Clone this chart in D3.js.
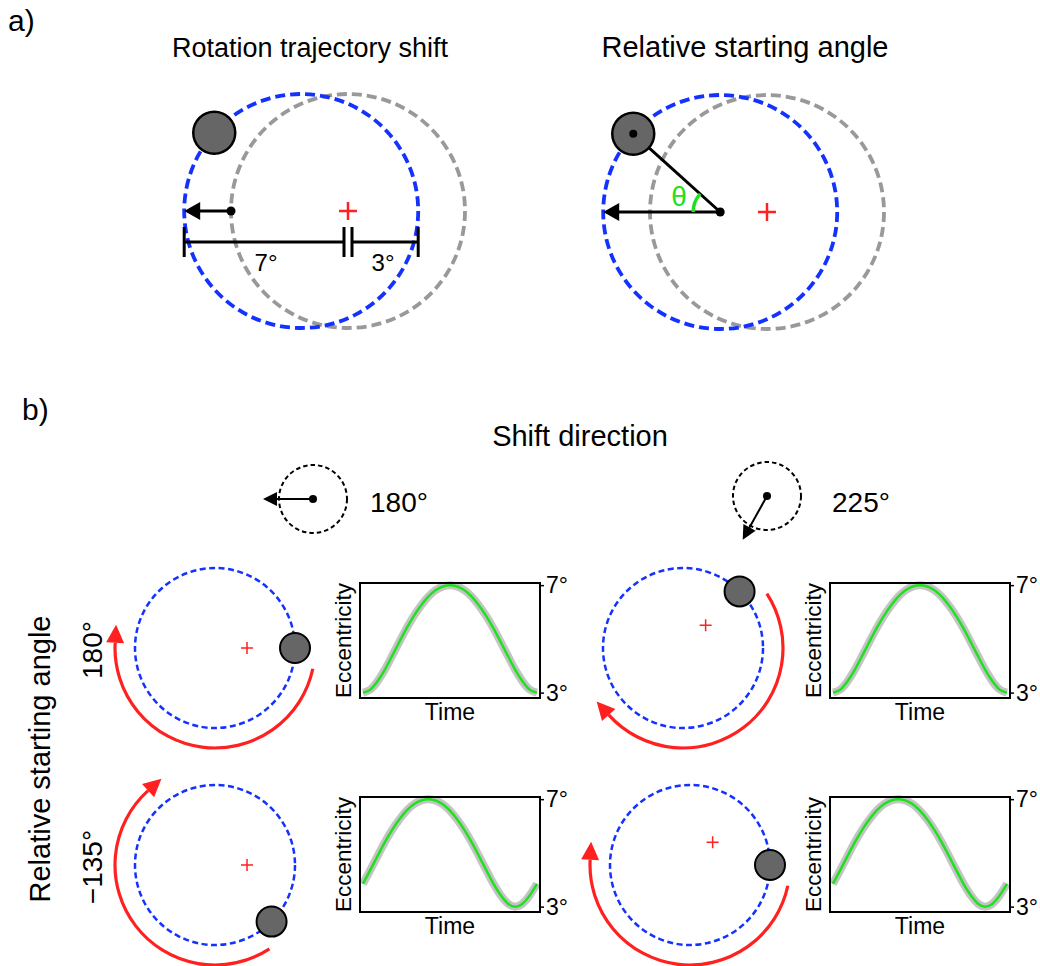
<!DOCTYPE html>
<html>
<head>
<meta charset="utf-8">
<script src="https://cdn.jsdelivr.net/npm/d3@7"></script>
<style>
  body { margin: 0; background: #fff; }
  svg text { font-family: "Liberation Sans", Arial, sans-serif; fill: #000; }
</style>
</head>
<body>
<div id="content"></div>
<script>
// ---- data ----
const shiftDirs = [180, 225];          // shift direction (deg), one per column
const startAngles = [180, -135];       // relative starting angle (deg), one per row
const shiftSize = 2;                   // trajectory shift (deg)
const orbitRadius = 5;                 // rotation radius (deg)
const thetaA = 42;                     // example starting angle in panel a
const rangeLabels = ['7°', '3°'];
const eccTicks = [3, 7];
// eccentricity over one rotation (25 samples)
const eccStart180 = [3.00, 3.11, 3.42, 3.85, 4.36, 4.88, 5.39, 5.85, 6.24, 6.57, 6.81, 6.95, 7.00,
                     6.95, 6.81, 6.57, 6.24, 5.85, 5.39, 4.88, 4.36, 3.85, 3.42, 3.11, 3.00];
const eccStartM135 = [3.85, 4.36, 4.88, 5.39, 5.85, 6.24, 6.57, 6.81, 6.95, 7.00, 6.95, 6.81, 6.57,
                      6.24, 5.85, 5.39, 4.88, 4.36, 3.85, 3.42, 3.11, 3.00, 3.11, 3.42, 3.85];
const eccSeries = [eccStart180, eccStartM135];

// ---- style ----
const width = 1040, height = 966;
const blue = '#1432ff', red = '#ff2020', green = '#20e020', grey = '#999999', ballFill = '#666666';

const svg = d3.select('#content')
              .append('svg')
              .attr('width', width)
              .attr('height', height);

const rad = d => d * Math.PI / 180;
// math angle (y up) -> screen point
const polar = (c, r, deg) => ({ x: c.x + r * Math.cos(rad(deg)), y: c.y - r * Math.sin(rad(deg)) });
const fmtDeg = d => (d < 0 ? '\u2212' + (-d) : d) + '°';

function arrow(g, p0, p1, headLen, headW, color, sw) {
    const dx = p1.x - p0.x, dy = p1.y - p0.y, L = Math.hypot(dx, dy);
    const ux = dx / L, uy = dy / L;
    const bx = p1.x - ux * headLen, by = p1.y - uy * headLen;
    g.append('line')
     .attr('x1', p0.x).attr('y1', p0.y).attr('x2', bx + ux).attr('y2', by + uy)
     .attr('stroke', color).attr('stroke-width', sw);
    g.append('path')
     .attr('d', d3.line()([[p1.x, p1.y], [bx - uy * headW, by + ux * headW], [bx + uy * headW, by - ux * headW]]) + 'Z')
     .attr('fill', color);
}

function cross(g, c, s, sw) {
    g.append('path')
     .attr('d', `M${c.x - s},${c.y}H${c.x + s}M${c.x},${c.y - s}V${c.y + s}`)
     .attr('stroke', red).attr('stroke-width', sw).attr('fill', 'none');
}

// ---- panel a ----
svg.append('text').attr('x', 8).attr('y', 31).attr('font-size', 30).text('a)');

const degA = d3.scaleLinear().domain([0, 1]).range([0, 23.4]);
const panelsA = [
    { fix: { x: 348, y: 211 }, title: 'Rotation trajectory shift', tx: 310, fs: 27 },
    { fix: { x: 767, y: 212 }, title: 'Relative starting angle', tx: 745, fs: 29 }
];

panelsA.forEach((p, i) => {
    const g = svg.append('g');
    g.append('text').attr('x', p.tx).attr('y', 57).attr('text-anchor', 'middle')
     .attr('font-size', p.fs).text(p.title);

    const bc = polar(p.fix, degA(shiftSize), shiftDirs[0]);
    g.append('circle').attr('cx', p.fix.x).attr('cy', p.fix.y).attr('r', degA(orbitRadius))
     .attr('fill', 'none').attr('stroke', grey).attr('stroke-width', 3.8).attr('stroke-dasharray', '10 5');
    g.append('circle').attr('cx', bc.x).attr('cy', bc.y).attr('r', degA(orbitRadius))
     .attr('fill', 'none').attr('stroke', blue).attr('stroke-width', 3.8).attr('stroke-dasharray', '10 5');
    cross(g, p.fix, 9, 2.5);

    const ball = polar(bc, degA(orbitRadius), 180 - thetaA);
    const edge = polar(bc, degA(orbitRadius), 180);

    if (i === 0) {
        const from = polar(p.fix, degA(orbitRadius), 180);
        arrow(g, from, edge, 16, 9, '#000', 3);
        g.append('circle').attr('cx', from.x).attr('cy', from.y).attr('r', 4.5);

        // 7° / 3° range bar
        const y = p.fix.y + 31, gap = 4;
        const x7 = p.fix.x - degA(7), x3 = p.fix.x + degA(3);
        g.append('path')
         .attr('d', `M${x7},${y}H${p.fix.x - gap}M${p.fix.x + gap},${y}H${x3}` +
                    `M${x7},${y - 15}V${y + 15}M${x3},${y - 15}V${y + 15}` +
                    `M${p.fix.x - gap},${y - 15}V${y + 15}M${p.fix.x + gap},${y - 15}V${y + 15}`)
         .attr('stroke', '#000').attr('stroke-width', 3).attr('fill', 'none');
        g.append('text').attr('x', (x7 + p.fix.x) / 2).attr('y', y + 29).attr('text-anchor', 'middle')
         .attr('font-size', 24).text(rangeLabels[0]);
        g.append('text').attr('x', (x3 + p.fix.x) / 2).attr('y', y + 29).attr('text-anchor', 'middle')
         .attr('font-size', 24).text(rangeLabels[1]);
    } else {
        arrow(g, bc, edge, 16, 9, '#000', 3);
        g.append('line').attr('x1', bc.x).attr('y1', bc.y).attr('x2', ball.x).attr('y2', ball.y)
         .attr('stroke', '#000').attr('stroke-width', 3);
        const arcP = d3.path();
        arcP.arc(bc.x, bc.y, 27, -Math.PI, -rad(180 - thetaA), false);
        g.append('path').attr('d', arcP.toString()).attr('fill', 'none')
         .attr('stroke', green).attr('stroke-width', 3.5);
        const tp = polar(bc, 44, 180 - thetaA / 2);
        g.append('text').attr('x', tp.x).attr('y', tp.y).attr('text-anchor', 'middle')
         .attr('dominant-baseline', 'central').attr('font-size', 28)
         .style('fill', green).text('θ');
        g.append('circle').attr('cx', bc.x).attr('cy', bc.y).attr('r', 4.5);
    }

    g.append('circle').attr('cx', ball.x).attr('cy', ball.y).attr('r', 21)
     .attr('fill', ballFill).attr('stroke', '#000').attr('stroke-width', 2.5);
    if (i === 1) g.append('circle').attr('cx', ball.x).attr('cy', ball.y).attr('r', 4);
});

// ---- panel b ----
svg.append('text').attr('x', 22).attr('y', 420).attr('font-size', 30).text('b)');
svg.append('text').attr('x', 580).attr('y', 446).attr('text-anchor', 'middle')
   .attr('font-size', 29).text('Shift direction');

// shift direction icons
const iconC = [{ x: 313, y: 499 }, { x: 767, y: 496 }];
const iconLabelX = [370, 832];
shiftDirs.forEach((dir, c) => {
    const g = svg.append('g');
    const ic = iconC[c];
    g.append('circle').attr('cx', ic.x).attr('cy', ic.y).attr('r', 34)
     .attr('fill', 'none').attr('stroke', '#000').attr('stroke-width', 2).attr('stroke-dasharray', '4.5 3');
    // the small inset is drawn with a stretched vertical axis
    let dx = Math.cos(rad(dir)), dy = -Math.sin(rad(dir)) * 1.8;
    const n = Math.hypot(dx, dy);
    const tip = { x: ic.x + 50 * dx / n, y: ic.y + 50 * dy / n };
    arrow(g, ic, tip, 14, 7, '#000', 2);
    g.append('circle').attr('cx', ic.x).attr('cy', ic.y).attr('r', 4);
    g.append('text').attr('x', iconLabelX[c]).attr('y', 512).attr('font-size', 28).text(fmtDeg(dir));
});

// row labels
svg.append('text').attr('transform', 'translate(50,759) rotate(-90)').attr('text-anchor', 'middle')
   .attr('font-size', 29).text('Relative starting angle');
const rowY = [648, 865];
startAngles.forEach((a, r) => {
    svg.append('text').attr('transform', `translate(102,${rowY[r] + 2}) rotate(-90)`).attr('text-anchor', 'middle')
       .attr('font-size', 28).text(fmtDeg(a));
});

const degB = d3.scaleLinear().domain([0, 1]).range([0, 16]);
const cellX = [[215, 683], [215, 690]];

startAngles.forEach((start, r) => {
    shiftDirs.forEach((dir, c) => {
        const g = svg.append('g');
        const cc = { x: cellX[r][c], y: rowY[r] };
        const fix = polar(cc, degB(shiftSize), dir + 180);
        const ballAng = dir - start;

        g.append('circle').attr('cx', cc.x).attr('cy', cc.y).attr('r', degB(orbitRadius))
         .attr('fill', 'none').attr('stroke', blue).attr('stroke-width', 2.5).attr('stroke-dasharray', '6 3.5');
        cross(g, fix, 6, 1.5);

        // red rotation arrow (clockwise)
        const R = 100, a0 = rad(-(ballAng - 12)), a1 = rad(-(ballAng - 183));
        const arcP = d3.path();
        arcP.arc(cc.x, cc.y, R, a0, a1, false);
        g.append('path').attr('d', arcP.toString()).attr('fill', 'none')
         .attr('stroke', red).attr('stroke-width', 3.2);
        const base = { x: cc.x + R * Math.cos(a1), y: cc.y + R * Math.sin(a1) };
        const tip = { x: base.x - 18 * Math.sin(a1), y: base.y + 18 * Math.cos(a1) };
        arrow(g, base, tip, 18, 9, red, 0);

        const ball = polar(cc, degB(orbitRadius), ballAng);
        g.append('circle').attr('cx', ball.x).attr('cy', ball.y).attr('r', 15)
         .attr('fill', ballFill).attr('stroke', '#000').attr('stroke-width', 2);

        // eccentricity plot
        const box = { x0: 360 + c * 470, x1: 540 + c * 470, y0: 583 + r * 214, y1: 698 + r * 214 };
        const vals = eccSeries[r];
        const x = d3.scaleLinear().domain([0, vals.length - 1]).range([box.x0 + 3, box.x1 - 3]);
        const y = d3.scaleLinear().domain([2.8, 7.08]).range([box.y1, box.y0]);
        const line = d3.line().x((d, i) => x(i)).y(d => y(d)).curve(d3.curveNatural);

        g.append('path').datum(vals).attr('d', line).attr('fill', 'none')
         .attr('stroke', '#c4c4c4').attr('stroke-width', 8);
        g.append('path').datum(vals).attr('d', line).attr('fill', 'none')
         .attr('stroke', green).attr('stroke-width', 2.5);
        g.append('rect').attr('x', box.x0).attr('y', box.y0)
         .attr('width', box.x1 - box.x0).attr('height', box.y1 - box.y0)
         .attr('fill', 'none').attr('stroke', '#000').attr('stroke-width', 2);

        const ax = g.append('g').attr('transform', `translate(${box.x1},0)`)
                    .call(d3.axisRight(y).tickValues(eccTicks).tickSize(4).tickPadding(2)
                            .tickFormat(d => d + '°'));
        ax.select('.domain').remove();
        ax.selectAll('line').attr('stroke-width', 1.5);
        ax.selectAll('text').attr('font-size', 23).attr('font-family', '"Liberation Sans", Arial, sans-serif');

        g.append('text').attr('x', (box.x0 + box.x1) / 2).attr('y', box.y1 + 22)
         .attr('text-anchor', 'middle').attr('font-size', 23).text('Time');
        g.append('text').attr('transform', `translate(${box.x0 - 9},${(box.y0 + box.y1) / 2}) rotate(-90)`)
         .attr('text-anchor', 'middle').attr('font-size', 22.5).text('Eccentricity');
    });
});
</script>
</body>
</html>
